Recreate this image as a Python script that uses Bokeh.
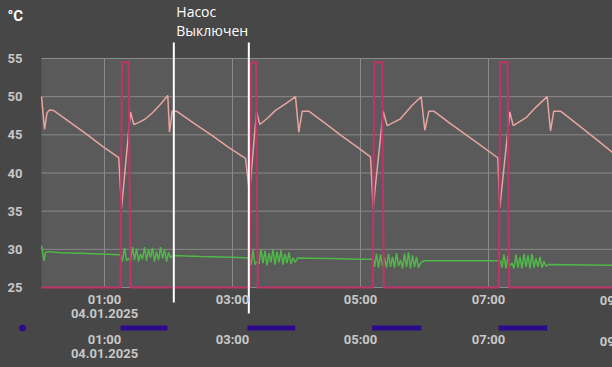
import pandas as pd
from bokeh.plotting import figure
from bokeh.models import (Range1d, FixedTicker, DatetimeTickFormatter, DatetimeAxis,
                          BoxAnnotation)
from bokeh.core.properties import value
from bokeh.embed import file_html
from bokeh.resources import INLINE

# ---------------- data (hours after 00:00 04.01.2025, values in °C) ----------------
DAY = "2025-01-04"
unit_label = "°C"
y_ticks = [25, 30, 35, 40, 45, 50, 55]
x_tick_hours = [1, 3, 5, 7, 9]
x_tick_cut_label = "09:00"

boiler_h = [0.016, 0.063, 0.102, 0.141, 0.203, 0.219, 0.469, 0.719, 0.969, 1.223,
            1.266, 1.406, 1.458, 1.531, 1.641, 1.750, 1.875, 1.989, 2.016, 2.058,
            2.125, 2.400, 2.700, 2.950, 3.203, 3.266, 3.375, 3.427, 3.550, 3.672,
            3.850, 3.984, 4.036, 4.089, 4.192, 4.450, 4.700, 4.950, 5.156, 5.198,
            5.355, 5.417, 5.625, 5.800, 5.948, 6.005, 6.068, 6.145, 6.400, 6.650,
            6.900, 7.145, 7.177, 7.333, 7.386, 7.594, 7.750, 7.917, 7.969, 8.020,
            8.125, 8.400, 8.700, 8.938, 9.050]
boiler_t = [50.0, 45.7, 47.9, 48.25, 48.2, 48.1, 46.6, 45.1, 43.5, 42.0,
            35.4, 48.0, 46.35, 46.6, 47.1, 47.9, 49.0, 50.15, 45.35, 48.1,
            48.1, 46.5, 44.8, 43.3, 41.9, 37.35, 48.0, 46.35, 47.2, 48.2,
            49.2, 50.0, 45.35, 48.1, 48.1, 46.5, 44.9, 43.4, 42.1, 35.5,
            48.05, 46.2, 47.1, 48.8, 50.0, 45.6, 48.1, 48.1, 46.5, 45.0,
            43.5, 42.0, 35.5, 48.0, 46.2, 47.3, 48.7, 50.0, 45.5, 48.1,
            48.1, 46.3, 44.3, 42.7, 41.9]

return_h = [0.016, 0.055, 0.078, 0.125, 0.3125, 0.625, 0.9375, 1.219,
            1.2500, 1.2813, 1.3125, 1.3438, 1.3750, 1.4063, 1.4375, 1.4688, 1.5000,
            1.5313, 1.5625, 1.5938, 1.6250, 1.6563, 1.6875, 1.7188, 1.7500, 1.7813,
            1.8125, 1.8438, 1.8750, 1.9063, 1.9375, 1.9688, 2.0000, 2.0313, 2.0625,
            2.500, 3.000, 3.250,
            3.2656, 3.2891, 3.3203, 3.3516, 3.3828, 3.4141, 3.4453, 3.4766, 3.5078,
            3.5391, 3.5703, 3.6016, 3.6328, 3.6641, 3.6953, 3.7266, 3.7578, 3.7891,
            3.8203, 3.8516, 3.8828, 3.9141, 3.9453, 3.9766, 4.0156,
            4.500, 5.000, 5.175,
            5.198, 5.219, 5.250, 5.281, 5.3125, 5.344, 5.375, 5.406, 5.4375, 5.469,
            5.500, 5.531, 5.5625, 5.594, 5.625, 5.656, 5.6875, 5.719, 5.750, 5.781,
            5.8125, 5.844, 5.875, 5.906, 5.9375, 5.989,
            6.500, 7.000, 7.160,
            7.1875, 7.211, 7.242, 7.273, 7.305, 7.336, 7.367, 7.398, 7.430, 7.461,
            7.492, 7.523, 7.555, 7.586, 7.617, 7.648, 7.680, 7.711, 7.742, 7.773,
            7.805, 7.836, 7.867, 7.898, 7.942,
            8.500, 9.050]
return_t = [30.5, 28.5, 29.6, 29.7, 29.55, 29.5, 29.4, 29.3,
            29.3, 28.4, 30.2, 28.5, 28.8, 28.4, 30.3, 28.6, 30.1,
            28.4, 29.4, 28.7, 30.3, 28.5, 30.0, 28.9, 30.2, 28.4,
            29.7, 28.6, 30.3, 28.8, 30.0, 28.4, 29.6, 28.9, 29.2,
            29.05, 28.95, 28.85,
            28.85, 27.9, 29.9, 28.0, 28.4, 28.1, 30.0, 28.2, 29.8,
            27.9, 29.5, 28.3, 30.0, 28.0, 29.7, 28.3, 29.9, 28.0,
            29.4, 28.2, 29.6, 28.1, 28.9, 28.3, 28.85,
            28.8, 28.7, 28.7,
            28.7, 27.7, 29.4, 27.6, 29.3, 27.8, 28.9, 27.6, 29.4, 27.7,
            29.0, 27.6, 29.5, 27.8, 28.6, 27.5, 29.4, 27.7, 29.6, 27.5,
            29.2, 27.7, 29.0, 27.6, 28.2, 28.5,
            28.5, 28.5, 28.5,
            28.5, 27.6, 29.3, 27.5, 29.1, 27.8, 28.2, 27.5, 29.3, 27.6,
            29.0, 27.5, 29.4, 27.7, 29.2, 27.5, 29.4, 27.6, 28.8, 27.7,
            29.0, 27.6, 28.4, 27.8, 28.0,
            27.95, 27.9]

pump_h = [0.016, 1.250, 1.273, 1.375, 1.406, 3.266, 3.289, 3.367, 3.395,
          5.192, 5.216, 5.336, 5.364, 7.161, 7.184, 7.297, 7.323, 9.1]
pump_t = [25.0, 25.0, 54.5, 54.5, 25.0, 25.0, 54.5, 54.5, 25.0,
          25.0, 54.5, 54.5, 25.0, 25.0, 54.5, 54.5, 25.0, 25.0]

run_start_h = [1.250, 3.234, 5.180, 7.156]
run_end_h = [1.984, 3.980, 5.950, 7.917]
event_h = [-0.281]

off_marks_h = [2.083, 3.255]
off_text = ["Насос", "Выключен"]

# ---------------- helpers / layout constants ----------------
BASE_MS = pd.Timestamp(DAY).value / 1e6


def ms(hours):
    return [BASE_MS + h * 3600000.0 for h in hours]


BG = "#474747"
PLOT_BG = "#5a5a5a"
GRID = "#8a8a8a"
LBL = "#c8c8c8"
FONT = "Roboto"

VIEW_H = (-0.625, 8.9375)        # visible time window (hours)
PLOT_LEFT_H = 0.015625           # left edge of the temperature plot area
VIEW_Y = (14.52, 62.598)         # vertical window in °C units
Y_LO, Y_HI = y_ticks[0], y_ticks[-1]
STRIP_Y = 19.69                  # level of the pump timeline strip
STRIP_AXIS_Y = 19.70             # level of the timeline's time axis
MARK_TOP = 57.1
MARK_BOTTOMS = [23.03, 21.59]
NOTE_Y = [61.21, 58.63]          # baselines of the two note lines
UNIT_Y = 60.60
CUT_LABEL_Y = [23.26, 17.98]


def make_formatter():
    ctx = DatetimeTickFormatter(hours="%d.%m.%Y", hourmin="%d.%m.%Y", days="%d.%m.%Y",
                                minutes="%d.%m.%Y")
    return DatetimeTickFormatter(hours="%H:%M", hourmin="%H:%M", minutes="%H:%M",
                                 context=ctx, context_which="start")


def style_axis(ax, standoff):
    ax.axis_line_color = None
    ax.major_tick_line_color = None
    ax.minor_tick_line_color = None
    ax.major_tick_in = 0
    ax.major_tick_out = 0
    ax.minor_tick_in = 0
    ax.minor_tick_out = 0
    ax.major_label_text_color = LBL
    ax.major_label_text_font = FONT
    ax.major_label_text_font_size = "13px"
    ax.major_label_text_font_style = "bold"
    ax.major_label_standoff = standoff
    ax.major_label_text_line_height = 0.95


p = figure(width=612, height=367, x_axis_type="datetime",
           x_range=Range1d(*ms(VIEW_H)), y_range=Range1d(*VIEW_Y),
           output_backend="svg", toolbar_location=None,
           min_border=0, min_border_left=0, min_border_right=0,
           min_border_top=0, min_border_bottom=0)
p.background_fill_color = BG
p.border_fill_color = BG
p.outline_line_color = None
p.xgrid.visible = False
p.ygrid.visible = False

# axes
p.xaxis.fixed_location = Y_LO
p.xaxis.ticker = FixedTicker(ticks=ms(x_tick_hours))
p.xaxis.formatter = make_formatter()
style_axis(p.xaxis[0], 4)

p.yaxis.fixed_location = ms([PLOT_LEFT_H])[0]
p.yaxis.ticker = FixedTicker(ticks=y_ticks)
style_axis(p.yaxis[0], 19)

ax2 = DatetimeAxis(fixed_location=STRIP_AXIS_Y, ticker=FixedTicker(ticks=ms(x_tick_hours)),
                   formatter=make_formatter())
style_axis(ax2, 4)
p.add_layout(ax2, "below")

# plot area and grid
p.add_layout(BoxAnnotation(left=ms([PLOT_LEFT_H])[0], right=ms([VIEW_H[1]])[0],
                           bottom=Y_LO, top=Y_HI, fill_color=PLOT_BG, fill_alpha=1.0,
                           line_color=None, level="underlay"))
grid_h = [h for h in x_tick_hours if PLOT_LEFT_H < h < VIEW_H[1]]
p.segment(x0=ms(grid_h), y0=[Y_LO] * len(grid_h), x1=ms(grid_h), y1=[Y_HI] * len(grid_h),
          line_color=GRID, line_width=1)
p.segment(x0=ms([PLOT_LEFT_H]) * len(y_ticks), y0=y_ticks,
          x1=ms([VIEW_H[1]]) * len(y_ticks), y1=y_ticks, line_color=GRID, line_width=1)

# series
p.line(ms(return_h), return_t, line_color="#4fb848", line_width=1.5)
p.line(ms(boiler_h), boiler_t, line_color="#e8a4a0", line_width=1.5)
p.line(ms(pump_h), pump_t, line_color="#c2336b", line_width=2, line_join="round")

# pump timeline
p.segment(x0=ms(run_start_h), y0=[STRIP_Y] * len(run_start_h), x1=ms(run_end_h),
          y1=[STRIP_Y] * len(run_end_h), line_color="#2b0a8c", line_width=5, line_cap="butt")
p.scatter(x=ms(event_h), y=[STRIP_Y], size=6, color="#2b0a8c")

# "pump off" markers
p.segment(x0=ms(off_marks_h), y0=[MARK_TOP] * 2, x1=ms(off_marks_h), y1=MARK_BOTTOMS,
          line_color="white", line_width=2)
p.text(x=ms([off_marks_h[0]] * 2), y=NOTE_Y, text=off_text, x_offset=2.5,
       text_color="white", text_font=value("Open Sans"), text_font_size="14px",
       text_baseline="alphabetic", text_align="left")

# unit label
p.text(x=ms([-0.5156]), y=[UNIT_Y], text=[unit_label], text_color="white",
       text_font=value(FONT), text_font_size="15px", text_font_style="bold",
       text_baseline="alphabetic", text_align="left")

# the 09:00 tick labels sitting on the right edge
p.text(x=ms([x_tick_hours[-1]] * 2), y=CUT_LABEL_Y, text=[x_tick_cut_label] * 2,
       text_color=LBL, text_font=value(FONT), text_font_size="13px",
       text_font_style="bold", text_baseline="alphabetic", text_align="center")

html = file_html(p, INLINE, title="chart")
html = html.replace("</head>", "<style>html,body{background:#474747;}</style></head>", 1)
open("out.html", "w").write(html)
